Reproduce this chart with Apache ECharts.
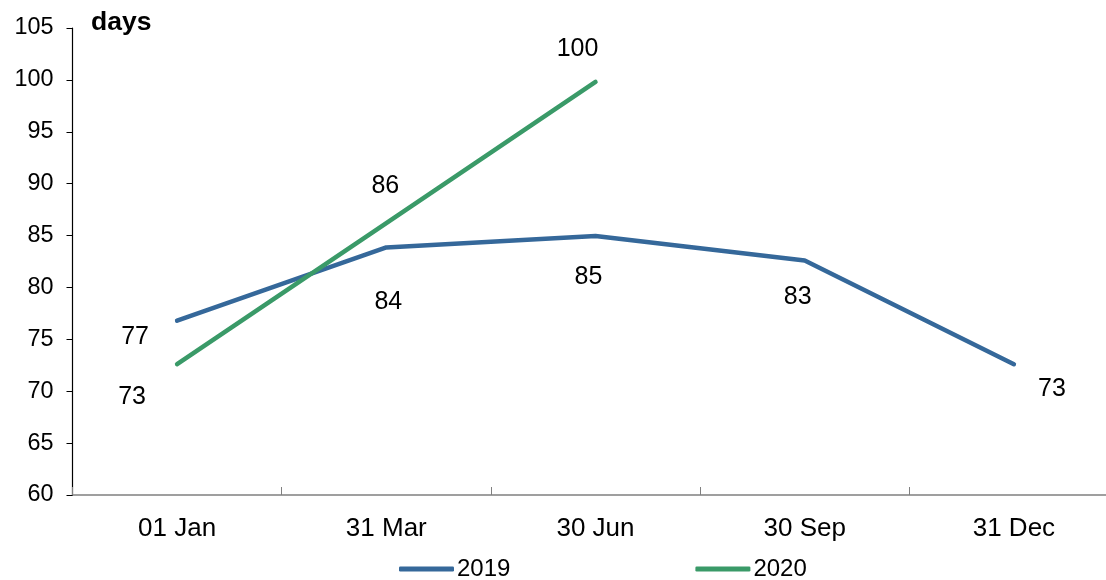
<!DOCTYPE html>
<html><head><meta charset="utf-8">
<script src="https://cdn.jsdelivr.net/npm/echarts@6/dist/echarts.min.js"></script>
<style>html,body{margin:0;padding:0;background:#fff}#c{width:1106px;height:580px}</style>
</head><body><div id="c"></div>
<script>
const categories = ['01 Jan', '31 Mar', '30 Jun', '30 Sep', '31 Dec'];
const values2019 = [76.8, 83.85, 84.95, 82.6, 72.6];
const values2020 = [72.6, 86.2, 99.8];
const labels2019 = ['77', '84', '85', '83', '73'];
const labels2020 = ['73', '86', '100'];
const yTicks = [60, 65, 70, 75, 80, 85, 90, 95, 100, 105];

const off2019 = [[-42, 16], [2, 55], [-7, 41], [-7, 37], [38, 25]];
const off2020 = [[-45, 33], [-1, -37], [-18, -33]];
const font = 'Liberation Sans, Arial, sans-serif';

function mk(vals, labs, offs) {
  return vals.map((v, i) => ({
    value: v,
    label: { show: true, formatter: labs[i], position: 'inside', offset: offs[i],
             fontSize: 25, color: '#000', fontFamily: font }
  }));
}

const chart = echarts.init(document.getElementById('c'));
chart.setOption({
  animation: false,
  grid: { left: 72.5, top: 28, bottom: 85, width: 1046, outerBoundsMode: 'none', containLabel: false },
  legend: {
    left: 394, top: 552, itemGap: 185, itemWidth: 55, itemHeight: 5,
    icon: 'roundRect',
    textStyle: { fontSize: 24, color: '#000', fontFamily: font, padding: [0, 0, 0, -2] },
    data: ['2019', '2020']
  },
  graphic: [{ type: 'text', left: 91, top: 9,
    style: { text: 'days', fontSize: 26.5, fontWeight: 'bold', fill: '#000', fontFamily: font } }],
  xAxis: {
    type: 'category', data: categories, boundaryGap: true,
    axisLine: { lineStyle: { color: '#808080', width: 1.5 } },
    axisTick: { show: true, inside: true, length: 8, lineStyle: { color: '#808080' } },
    axisLabel: { fontSize: 26, color: '#000', margin: 21, fontFamily: font }
  },
  yAxis: {
    type: 'value', min: yTicks[0], max: yTicks[yTicks.length - 1], interval: 5,
    axisLine: { show: true, lineStyle: { color: '#000', width: 1.2 } },
    axisTick: { show: true, length: 6, lineStyle: { color: '#000' } },
    splitLine: { show: false },
    axisLabel: { fontSize: 23.4, color: '#000', margin: 19, fontFamily: font }
  },
  series: [
    { name: '2019', type: 'line', data: mk(values2019, labels2019, off2019),
      symbol: 'circle', symbolSize: 1, showSymbol: true,
      lineStyle: { color: '#35689A', width: 4.5, cap: 'round' }, itemStyle: { color: '#35689A' } },
    { name: '2020', type: 'line', data: mk(values2020, labels2020, off2020),
      symbol: 'circle', symbolSize: 1, showSymbol: true,
      lineStyle: { color: '#3A9A68', width: 4.5, cap: 'round' }, itemStyle: { color: '#3A9A68' } }
  ]
});
</script></body></html>
